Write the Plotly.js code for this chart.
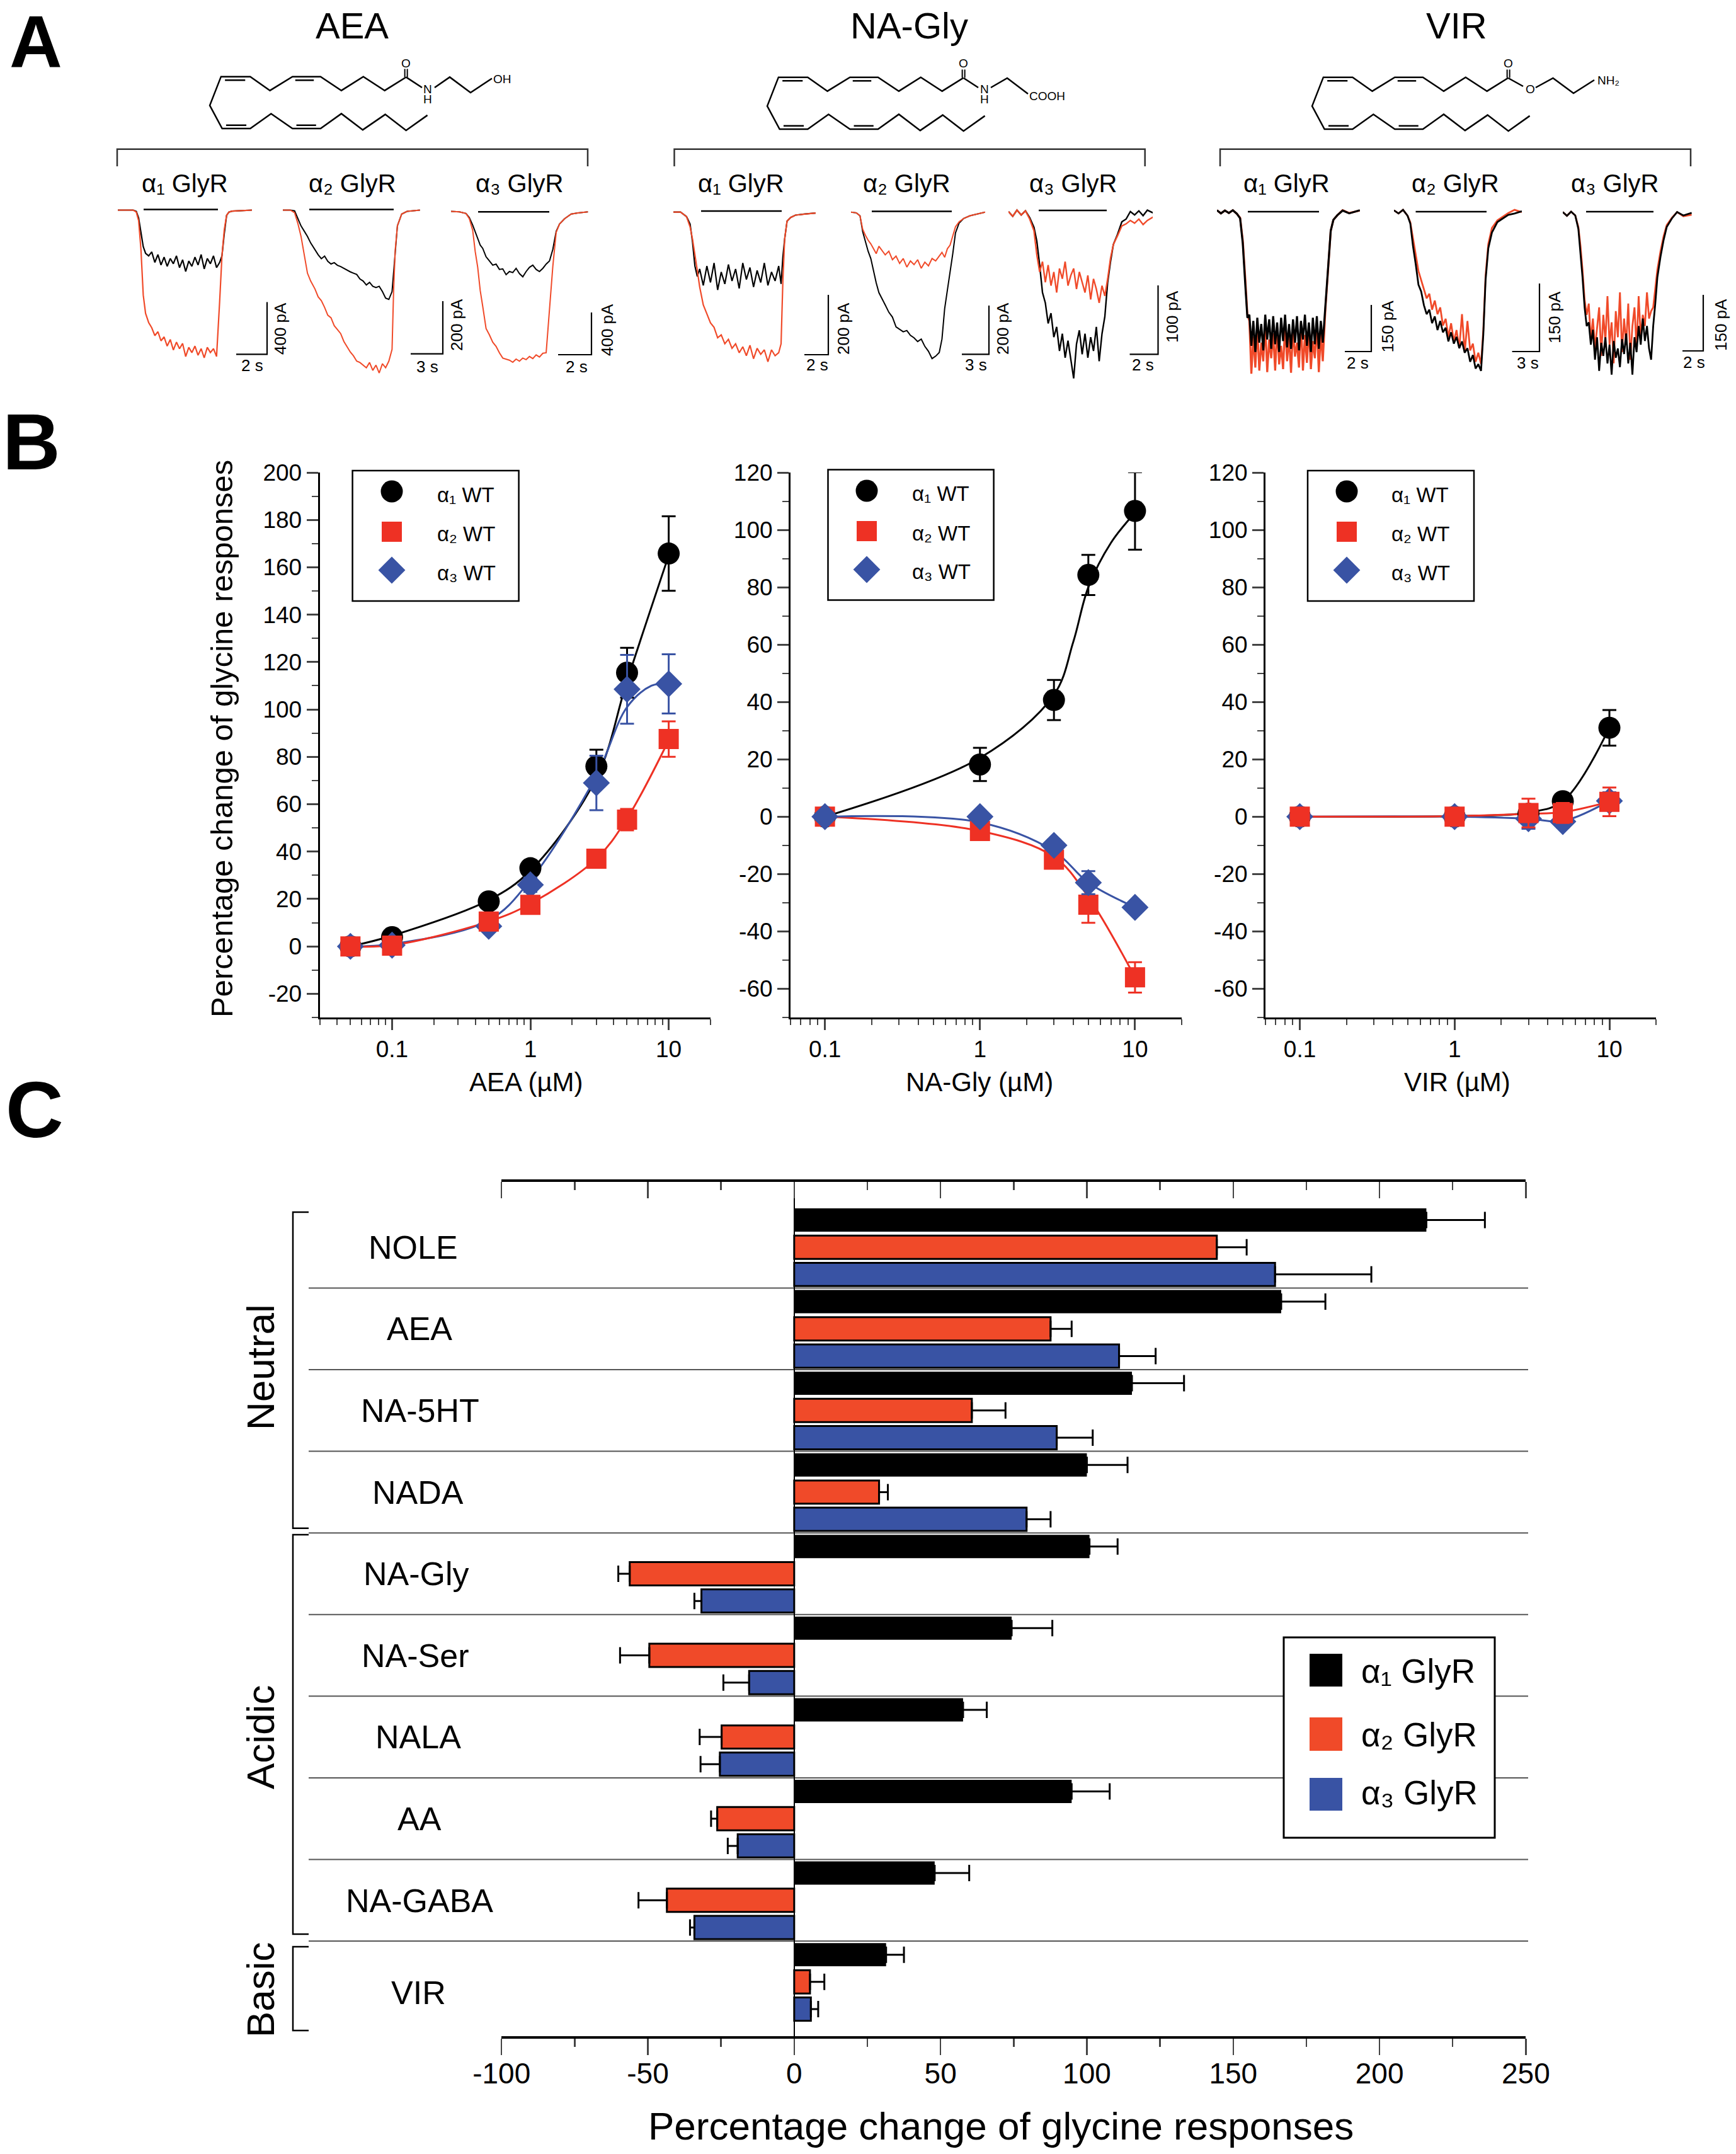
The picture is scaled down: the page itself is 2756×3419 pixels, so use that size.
<!DOCTYPE html>
<html><head><meta charset="utf-8">
<script src="https://cdn.plot.ly/plotly-3.0.1.min.js"></script>
<style>html,body{margin:0;padding:0;background:#fff}#g{width:2756px;height:3419px}</style>
</head><body><div id="g"></div>
<script>
// ---------- Panel C data ----------
const compounds=['NOLE','AEA','NA-5HT','NADA','NA-Gly','NA-Ser','NALA','AA','NA-GABA','VIR'];
const barA1=[216,166.4,115.4,100,100.9,74.3,57.7,94.8,48,31.4];
const barA2=[144.4,87.6,60.7,29,-56.2,-49.5,-24.8,-26.3,-43.5,5.4];
const barA3=[164.3,111,89.7,79.4,-31.7,-15.4,-25.4,-19.3,-34.1,5.7];
const errA1=[20,15.1,17.8,13.9,9.6,13.9,8.1,13,11.8,6.1];
const errA2=[10.2,7.2,11.5,3,3.9,10,7.5,2.1,9.7,4.9];
const errA3=[32.9,12.5,12.3,8.2,2.4,8.8,6.6,3.4,1.5,2.5];
const barTickVals=[-100,-50,0,50,100,150,200,250];
const barTickText=['-100','-50','0','50','100','150','200','250'];
const subunits=['α₁','α₂','α₃'];
// ---------- Panel B data ----------
const aeaDose=[.05,.1,.5,1,3,5,10];
const aeaA1=[0,3.9,19,33,76,115.5,165.8], aeaErrA1=[0,1,1,2,7,10.5,15.7], aeaFitA1=[0,4.5,19.5,32,71,112,165];
const aeaA2=[0,.3,10.5,17.5,37,53.5,87.5], aeaErrA2=[0,0,1,1,2,4.5,7.5], aeaFitA2=[0,.5,10.5,18,37,54,87];
const aeaA3=[0,.5,8.5,26,69,108.5,110.8], aeaErrA3=[0,0,1,3,11.5,14.5,12.5];
const aeaFitDoseA3=[.05,.1,.5,1,3,5,7.5,10], aeaFitA3=[0,1,11,28,72,101,110,111];
const glyDose=[.1,1,3,5,10];
const glyA1=[0,18.2,40.7,84.3,106.6], glyErrA1=[0,5.8,7,7,13.5];
const glyFitDoseA1=[.1,1,3,4,5,7,10], glyFitA1=[0,20.5,42.5,61,80,95.5,106];
const glyA2=[0,-5,-15,-30.7,-56], glyErrA2=[0,1,2.5,6.3,5.3], glyFitA2=[0,-5,-14,-28,-56];
const glyA3=[0,0,-10,-23,-31.6], glyErrA3=[0,1,2,4,1], glyFitA3=[0,-2,-12,-23,-31.6];
const virDose=[.1,1,3,5,10];
const virA1=[0,0,1,5.4,31], virErrA1=[0,.5,1,2,6.2], virFitA1=[0,.2,1.5,5.4,31];
const virA2=[0,0,1.3,1.3,5.2], virErrA2=[0,.5,5,3.5,5], virFitA2=[0,.2,1,1.6,5.2];
const virA3=[0,0,-.7,-1.7,5.5], virErrA3=[0,.5,3.5,2,3], virFitA3=[0,0,-.7,-1.5,5.5];
const aeaYTicks=[-20,0,20,40,60,80,100,120,140,160,180,200];
const glyYTicks=[-60,-40,-20,0,20,40,60,80,100,120];
const doseTicks=[.1,1,10], doseTickText=['0.1','1','10'];
// ---------- Panel A data: time (s) and current (pA) ----------
const t1=[0,.5,1,1.2,1.35,1.5,1.65,1.8,2,2.2,2.4,2.6,2.8,3,3.2,3.4,3.6,3.8,4,4.2,4.4,4.6,4.8,5,5.2,5.4,5.6,5.8,6,6.2,6.4,6.6,6.75,6.9,7.05,7.2,7.4,7.8,8.2,8.7];
const i1k=[0,0,0,-10,-60,-170,-280,-330,-350,-320,-400,-340,-420,-360,-430,-370,-410,-350,-440,-380,-470,-390,-430,-360,-420,-340,-450,-370,-410,-350,-440,-400,-350,-180,-40,-15,-8,-5,-3,0];
const i1r=[0,0,0,-15,-80,-300,-650,-790,-860,-900,-960,-930,-1000,-970,-1040,-990,-1070,-1010,-1060,-1020,-1120,-1050,-1090,-1040,-1110,-1060,-1130,-1050,-1090,-1060,-1120,-700,-350,-150,-40,-15,-8,-5,-3,0];
const t2=[0,.7,1.1,1.4,1.7,2,2.3,2.6,3,3.3,3.6,3.9,4.2,4.5,4.8,5.1,5.4,5.7,6,6.3,6.6,6.9,7.2,7.5,7.8,8.1,8.4,8.7,9,9.3,9.6,9.9,10.2,10.35,10.5,10.7,11.1,11.6,12.8];
const i2k=[0,0,-3,-30,-60,-80,-100,-125,-150,-170,-185,-175,-195,-205,-200,-210,-215,-222,-230,-235,-240,-245,-262,-270,-285,-275,-290,-295,-290,-310,-335,-340,-310,-230,-150,-60,-15,-5,0];
const i2r=[0,0,-10,-50,-100,-170,-240,-270,-300,-330,-345,-370,-400,-410,-440,-455,-470,-500,-520,-540,-555,-575,-580,-590,-600,-580,-610,-590,-620,-585,-600,-575,-530,-300,-150,-60,-15,-5,0];
const t3=[0,.5,.9,1.1,1.3,1.45,1.6,1.75,1.9,2.1,2.3,2.5,2.7,2.9,3.1,3.3,3.5,3.7,3.9,4.1,4.3,4.5,4.7,4.9,5.1,5.3,5.5,5.7,5.9,6.1,6.3,6.5,6.8,7.2,7.6,8.2];
const i3k=[0,-5,-20,-60,-130,-190,-260,-320,-350,-430,-470,-510,-500,-550,-545,-600,-570,-580,-540,-590,-620,-570,-530,-510,-550,-570,-540,-500,-470,-360,-190,-120,-70,-25,-15,-5];
const i3r=[0,-5,-20,-70,-180,-380,-530,-750,-900,-1110,-1170,-1240,-1280,-1340,-1390,-1400,-1410,-1430,-1400,-1420,-1390,-1405,-1375,-1395,-1360,-1380,-1345,-1340,-900,-520,-200,-120,-70,-25,-15,-5];
const t4=[0,.6,1.1,1.4,1.6,1.8,2,2.2,2.5,2.8,3.1,3.4,3.7,4,4.3,4.6,4.9,5.2,5.5,5.8,6.1,6.4,6.7,7,7.3,7.6,7.9,8.2,8.5,8.8,9,9.15,9.3,9.5,9.8,10.2,11,11.9];
const i4k=[0,0,-15,-40,-100,-180,-215,-190,-245,-180,-235,-170,-260,-200,-240,-175,-230,-190,-255,-170,-225,-185,-250,-195,-235,-170,-245,-200,-230,-180,-240,-150,-90,-30,-18,-10,-6,-3];
const i4r=[0,0,-15,-50,-90,-140,-195,-250,-310,-340,-370,-385,-420,-410,-440,-425,-455,-440,-470,-450,-480,-445,-490,-455,-475,-460,-500,-460,-480,-470,-440,-230,-90,-30,-18,-10,-6,-3];
const t5=[0,.6,1,1.3,1.6,1.9,2.2,2.5,2.8,3.1,3.4,3.8,4.2,4.6,5,5.4,5.8,6.2,6.6,7,7.4,7.8,8.2,8.6,9,9.4,9.8,10.1,10.4,10.7,11,11.3,11.6,12,12.5,13.2,14,14.9];
const i5k=[0,-3,-15,-80,-120,-160,-190,-240,-290,-330,-350,-380,-410,-430,-470,-480,-490,-485,-505,-515,-530,-520,-550,-570,-600,-590,-575,-520,-395,-320,-250,-170,-85,-45,-26,-15,-8,0];
const i5r=[0,-3,-15,-70,-95,-115,-130,-150,-170,-140,-155,-175,-160,-195,-180,-210,-190,-225,-200,-215,-195,-230,-205,-220,-190,-200,-180,-165,-185,-150,-135,-100,-60,-40,-26,-15,-8,0];
const t6=[0,.3,.6,.9,1.2,1.5,1.8,2,2.2,2.4,2.6,2.8,3,3.2,3.4,3.6,3.8,4,4.2,4.4,4.6,4.8,5,5.2,5.4,5.6,5.8,6,6.2,6.4,6.6,6.8,7,7.2,7.4,7.7,8,8.3,8.6,8.9,9.2,9.5,9.8,10.2];
const i6k=[3,-4,5,-2,4,-6,-20,-40,-75,-115,-130,-160,-145,-180,-165,-200,-175,-210,-185,-215,-240,-190,-170,-205,-175,-210,-180,-200,-165,-215,-175,-150,-100,-70,-45,-30,-12,-8,3,-2,4,-3,5,1];
const i6r=[3,-4,5,-2,4,-8,-25,-60,-85,-70,-100,-75,-105,-85,-115,-80,-95,-70,-105,-90,-80,-110,-85,-100,-115,-90,-125,-95,-110,-130,-105,-120,-95,-65,-45,-32,-18,-15,-10,-14,-8,-16,-10,-5];
const t7=[0,.3,.6,.9,1.2,1.5,1.75,1.95,2.15,2.3,2.45,2.6,2.75,2.9,3.05,3.2,3.35,3.5,3.65,3.8,3.95,4.1,4.25,4.4,4.55,4.7,4.85,5,5.15,5.3,5.45,5.6,5.75,5.9,6.05,6.2,6.35,6.5,6.65,6.8,6.95,7.1,7.25,7.4,7.55,7.7,7.85,8,8.2,8.4,8.6,8.8,9.1,9.5,10,10.8];
const i7k=[6,-4,5,-3,6,-5,-20,-100,-240,-340,-330,-430,-350,-450,-340,-420,-360,-445,-330,-410,-345,-440,-335,-425,-355,-450,-340,-415,-330,-435,-360,-440,-345,-420,-335,-445,-350,-410,-330,-430,-355,-450,-340,-425,-335,-440,-350,-420,-300,-170,-60,-25,-10,5,-4,6];
const i7r=[6,-4,5,-3,6,-5,-18,-90,-220,-330,-350,-520,-400,-500,-370,-510,-420,-480,-360,-515,-410,-470,-390,-510,-370,-490,-430,-505,-360,-480,-400,-517,-375,-465,-420,-500,-355,-510,-395,-485,-370,-505,-415,-470,-360,-515,-390,-480,-310,-180,-60,-25,-10,6,-3,5];
const t8=[0,.5,1,1.5,1.8,2.1,2.4,2.7,3,3.3,3.6,3.9,4.2,4.5,4.8,5.1,5.4,5.7,6,6.3,6.6,6.9,7.2,7.5,7.8,8.1,8.4,8.7,9,9.3,9.6,9.85,10.1,10.4,10.8,11.4,12,12.6,13.3,14.1];
const i8k=[4,-3,5,-8,-25,-75,-115,-160,-175,-205,-225,-215,-245,-230,-260,-240,-265,-255,-285,-265,-290,-275,-300,-285,-310,-300,-330,-315,-345,-335,-350,-270,-150,-80,-45,-22,-14,-6,-3,2];
const i8r=[4,-3,5,-8,-22,-60,-95,-130,-150,-170,-190,-180,-215,-195,-225,-210,-250,-235,-275,-245,-285,-260,-300,-225,-310,-240,-305,-290,-330,-310,-335,-260,-140,-70,-35,-18,-10,-2,5,0];
const t9=[0,.4,.8,1.2,1.5,1.7,1.9,2.1,2.3,2.5,2.7,2.9,3.1,3.3,3.5,3.7,3.9,4.1,4.3,4.5,4.7,4.9,5.1,5.3,5.5,5.7,5.9,6.1,6.3,6.5,6.7,6.9,7.1,7.3,7.5,7.7,7.9,8.1,8.3,8.5,8.7,8.9,9.1,9.4,9.7,10,10.5,11,11.6,12.4];
const i9k=[5,-5,6,-4,-40,-100,-170,-250,-300,-290,-350,-310,-390,-330,-420,-345,-380,-330,-400,-350,-430,-340,-385,-360,-410,-335,-375,-320,-400,-345,-430,-330,-370,-300,-350,-280,-340,-300,-360,-390,-300,-240,-170,-115,-70,-35,-12,5,-4,3];
const i9r=[5,-5,6,-4,-35,-85,-150,-230,-270,-240,-340,-280,-360,-300,-250,-380,-270,-340,-220,-350,-290,-400,-260,-330,-210,-370,-280,-350,-240,-390,-300,-250,-360,-220,-330,-270,-300,-210,-280,-260,-250,-200,-150,-100,-60,-30,-10,5,-6,-2];

const W=2756,H=3419;
const BLACK='#000000',RED='#ee3124',ORANGE='#f04a29',BLUE='#3953a4';
const FONT='"Liberation Sans", Arial, sans-serif';
const px=x=>x/W, py=y=>1-y/H;
const dx=(a,b)=>[a/W,b/W], dy=(t,b)=>[1-b/H,1-t/H];
const traces=[],shapes=[],annotations=[];
const layout={width:W,height:H,margin:{l:0,r:0,t:0,b:0},paper_bgcolor:'#fff',plot_bgcolor:'rgba(0,0,0,0)',
  showlegend:false,hovermode:false,barmode:'group',bargap:0,bargroupgap:.145,font:{family:FONT,color:'#000'}};
function ann(x,y,text,size,o){annotations.push(Object.assign({xref:'paper',yref:'paper',x:px(x),y:py(y),text,showarrow:false,
  xanchor:'center',yanchor:'middle',font:{size,family:FONT,color:'#000'}},o||{}));}
function seg(x0,y0,x1,y1,w,c){shapes.push({type:'line',xref:'paper',yref:'paper',x0:px(x0),y0:py(y0),x1:px(x1),y1:py(y1),line:{width:w||2,color:c||'#000'}});}
function poly(pts,w,c){shapes.push({type:'path',xref:'paper',yref:'paper',path:'M'+pts.map(p=>px(p[0])+' '+py(p[1])).join(' L'),line:{width:w||2.5,color:c||'#000'}});}
function box(x0,y0,x1,y1,fill,lw,lc,layer){shapes.push({type:'rect',xref:'paper',yref:'paper',x0:px(x0),y0:py(y0),x1:px(x1),y1:py(y1),fillcolor:fill,line:{width:lw||0,color:lc||'#000'},layer:layer||'above'});}

// ---------- Panel letters ----------
ann(57,67,'<b>A</b>',116); ann(50,701,'<b>B</b>',127); ann(55,1761,'<b>C</b>',127);

// ---------- Panel A ----------
[['AEA',559],['NA-Gly',1443],['VIR',2312]].forEach(a=>ann(a[1],40,a[0],58));
[[186,933],[1070.5,1817.7],[1937,2684]].forEach(b=>poly([[b[0],264],[b[0],236.7],[b[1],236.7],[b[1],264]],2.5,'#333'));
[[293,0],[559,1],[824,2],[1176,0],[1439,1],[1703,2],[2042.6,0],[2310.7,1],[2563,2]].forEach(a=>
  ann(a[0],291,subunits[a[1]]+' GlyR',40));

function structure(dX,dY){
  const m=(p)=>[p[0]/1.12+dX,p[1]/2.45+dY];
  poly([[722,300],[684,352],[646,298],[607,352],[570,298],[520,298],[480,352],[445,298],[393,298],[373,410],[395,500],[445,500],[482,442],[520,500],[570,500],[607,442],[645,505],[685,445],[722,507],[760,448]].map(m),2.5);
  [[400,312,436,312],[525,312,558,312],[402,487,438,487],[527,487,562,487]].forEach(s=>{const a=m([s[0],s[1]]),b=m([s[2],s[3]]);seg(a[0],a[1],b[0],b[1],2.5);});
  const c=m([722,300]),o=m([722,268]);
  seg(c[0]-2,c[1],o[0]-2,o[1],2); seg(c[0]+2,c[1],o[0]+2,o[1],2);
  ann(o[0],100+dY,'O',19);
}
structure(0,0); poly([[644.6,122.4],[670,139]],2.5); poly([[690,139],[714,122.4],[747,147],[781,124.5]],2.5);
ann(678.6,141,'N',19); ann(678.6,157,'H',19); ann(797,125,'OH',19);
structure(885,1); poly([[1530,124],[1553,139]],2.5); poly([[1573,139],[1599,124],[1632,149]],2.5);
ann(1563,141,'N',19); ann(1563,158,'H',19); ann(1662,152,'COOH',19);
structure(1750,1); poly([[2394.6,124],[2418,137]],2.5); poly([[2438,139],[2465.5,124],[2498,148],[2531,127]],2.5);
ann(2429,142,'O',19); ann(2553,128,'NH₂',19);

const tracePanels=[
 {t:t1,k:i1k,r:i1r,L:187,R:400,base:333.5,pxS:24.5,pxA:.2075,drug:[228,346,332.6],sb:[375,424,562.4,479.6],lab:['400 pA',445,522],tl:['2 s',400,580],lw:2.2},
 {t:t2,k:i2k,r:i2r,L:449,R:667,base:333.5,pxS:17,pxA:.417,drug:[491,625,332.6],sb:[652,703,561.6,478],lab:['200 pA',725,516],tl:['3 s',678,582],lw:2},
 {t:t3,k:i3k,r:i3r,L:716,R:934,base:335.5,pxS:26.5,pxA:.1675,drug:[759,872,336.3],sb:[886,939,563,496],lab:['400 pA',964,524],tl:['2 s',915,582],lw:2},
 {t:t4,k:i4k,r:i4r,L:1069,R:1295,base:336.7,pxS:19,pxA:.475,drug:[1113,1241,335],sb:[1277,1315,563,468],lab:['200 pA',1339,522],tl:['2 s',1297,579],lw:2.2},
 {t:t5,k:i5k,r:i5r,L:1351,R:1564,base:336.7,pxS:14.3,pxA:.3875,drug:[1384,1511,335.5],sb:[1527,1570,562.4,485],lab:['200 pA',1592,522],tl:['3 s',1549,579],lw:2},
 {t:t6,k:i6k,r:i6r,L:1601,R:1830,base:339,pxS:22.5,pxA:1.09,drug:[1649,1757,334],sb:[1793.5,1838.5,562.4,453],lab:['100 pA',1861,503],tl:['2 s',1815,579],lw:2.4},
 {t:t7,k:i7k,r:i7r,L:1932,R:2159,base:336.7,pxS:21,pxA:.4933,drug:[1981,2094,336],sb:[2135,2177,558,484],lab:['150 pA',2202.5,518],tl:['2 s',2155,576],lw:3.2,blackTop:true},
 {t:t8,k:i8k,r:i8r,L:2213,R:2416,base:336.7,pxS:14.4,pxA:.72,drug:[2247.5,2360,336],sb:[2400.6,2444,558,450],lab:['150 pA',2468,504],tl:['3 s',2425,576],lw:2.8,blackTop:true},
 {t:t9,k:i9k,r:i9r,L:2481,R:2686,base:339.6,pxS:16.5,pxA:.593,drug:[2518,2625,336],sb:[2671,2704,557,468],lab:['150 pA',2732,516],tl:['2 s',2689,575],lw:2.8,blackTop:true}
];
let axN=3;
tracePanels.forEach(p=>{
  const n=axN++; const top=320,bot=620;
  layout['xaxis'+n]={domain:dx(p.L,p.R),range:[0,(p.R-p.L)/p.pxS],visible:false,anchor:'y'+n,fixedrange:true};
  layout['yaxis'+n]={domain:dy(top,bot),range:[-(bot-p.base)/p.pxA,(p.base-top)/p.pxA],visible:false,anchor:'x'+n,fixedrange:true};
  const tk={type:'scatter',mode:'lines',x:p.t,y:p.k,xaxis:'x'+n,yaxis:'y'+n,line:{color:BLACK,width:p.lw},cliponaxis:false,name:'black'};
  const tr={type:'scatter',mode:'lines',x:p.t,y:p.r,xaxis:'x'+n,yaxis:'y'+n,line:{color:ORANGE,width:p.lw},cliponaxis:false,name:'red'};
  if(p.blackTop){traces.push(tr,tk);}else{traces.push(tk,tr);}
  seg(p.drug[0],p.drug[2],p.drug[1],p.drug[2],2.5);
  poly([[p.sb[0],p.sb[2]],[p.sb[1],p.sb[2]],[p.sb[1],p.sb[3]]],2.2);
  ann(p.lab[1],p.lab[2],p.lab[0],26,{textangle:-90});
  ann(p.tl[1],p.tl[2],p.tl[0],26);
});

// ---------- Panel B ----------
function doseAxes(n,L,R,lo,yr,yt){
  const hy=yt.map(v=>String(v));
  layout['xaxis'+n]={domain:dx(L,R),type:'log',range:[Math.log10(lo),Math.log10(20)],anchor:'y'+n,tickmode:'array',tickvals:doseTicks,ticktext:doseTickText,
    ticks:'outside',ticklen:17,tickwidth:3,linewidth:3,linecolor:'#000',showgrid:false,zeroline:false,tickfont:{size:37,family:FONT,color:'#000'},ticklabelstandoff:-1,
    minor:{ticks:'outside',ticklen:9,tickwidth:2,dtick:'D1',showgrid:false},fixedrange:true};
  layout['yaxis'+n]={domain:dy(750,1615),range:yr,anchor:'x'+n,tickmode:'array',tickvals:yt,ticktext:hy,
    ticks:'outside',ticklen:18,tickwidth:3,linewidth:3,linecolor:'#000',showgrid:false,zeroline:false,tickfont:{size:37,family:FONT,color:'#000'},
    minor:{ticks:'outside',ticklen:10,tickwidth:2,dtick:10,tick0:0,showgrid:false},fixedrange:true};
}
function fit(n,x,y,c){traces.push({type:'scatter',mode:'lines',x,y,xaxis:'x'+n,yaxis:'y'+n,line:{color:c,width:3,shape:'spline'},cliponaxis:false});}
function pts(n,x,y,e,c,sym,size){traces.push({type:'scatter',mode:'markers',x,y,xaxis:'x'+n,yaxis:'y'+n,cliponaxis:false,
  marker:{color:c,symbol:sym,size,line:{width:0}},error_y:{type:'data',array:e,visible:true,color:c,thickness:3,width:11}});}
const SC=35,SS=32,SD=33;
doseAxes(20,507.6,1127.7,.03,[-30,200],aeaYTicks);
fit(20,aeaDose,aeaFitA1,BLACK);fit(20,aeaFitDoseA3,aeaFitA3,BLUE);fit(20,aeaDose,aeaFitA2,RED);
pts(20,aeaDose,aeaA1,aeaErrA1,BLACK,'circle',SC);pts(20,aeaDose,aeaA3,aeaErrA3,BLUE,'diamond',SD);pts(20,aeaDose,aeaA2,aeaErrA2,RED,'square',SS);
doseAxes(21,1255,1876,.06,[-70,120],glyYTicks);
fit(21,glyFitDoseA1,glyFitA1,BLACK);fit(21,glyDose,glyFitA2,RED);fit(21,glyDose,glyFitA3,BLUE);
pts(21,glyDose,glyA1,glyErrA1,BLACK,'circle',SC);pts(21,glyDose,glyA2,glyErrA2,RED,'square',SS);pts(21,glyDose,glyA3,glyErrA3,BLUE,'diamond',SD);
doseAxes(22,2009,2629,.06,[-70,120],glyYTicks);
fit(22,virDose,virFitA1,BLACK);fit(22,virDose,virFitA3,BLUE);fit(22,virDose,virFitA2,RED);
pts(22,virDose,virA1,virErrA1,BLACK,'circle',SC);pts(22,virDose,virA3,virErrA3,BLUE,'diamond',SD);pts(22,virDose,virA2,virErrA2,RED,'square',SS);
ann(352,1173,'Percentage change of glycine responses',49,{textangle:-90});
ann(835,1717,'AEA (µM)',42); ann(1555,1717,'NA-Gly (µM)',42); ann(2313,1717,'VIR (µM)',42);

// B legends: keys on a page-wide hidden axis
layout.xaxis30={domain:[0,1],range:[0,W],visible:false,anchor:'y30',fixedrange:true};
layout.yaxis30={domain:[0,1],range:[H,0],visible:false,anchor:'x30',fixedrange:true};
[[559.6,823.6,747,954,622,692,[780,844,905],[785,847,909]],
 [1314.5,1577.6,745.5,952.5,1376,1446,[779,843,904],[784,846,908]],
 [2076,2340,747,954,2138,2207,[780,844,905],[785,847,909]]].forEach(l=>{
  box(l[0],l[2],l[1],l[3],'rgba(0,0,0,0)',2.5);
  [[BLACK,'circle',SC],[RED,'square',SS],[BLUE,'diamond',SD]].forEach((k,i)=>{
    traces.push({type:'scatter',mode:'markers',x:[l[4]],y:[l[6][i]],xaxis:'x30',yaxis:'y30',marker:{color:k[0],symbol:k[1],size:k[2]}});
    ann(l[5],l[7][i],subunits[i]+' WT',33,{xanchor:'left'});
  });
});

// ---------- Panel C ----------
const plus=(v,e)=>e.map((d,i)=>v[i]>=0?d:0), minus=(v,e)=>e.map((d,i)=>v[i]<0?d:0);
function barTrace(v,e,c,isBlack){traces.push({type:'bar',orientation:'h',y:compounds,x:v,xaxis:'x',yaxis:'y',
  marker:{color:c,line:{color:'#000',width:isBlack?0:3}},
  error_x:{type:'data',symmetric:false,array:plus(v,e),arrayminus:minus(v,e),visible:true,color:'#000',thickness:3,width:13}});}
barTrace(barA1,errA1,BLACK,true);barTrace(barA2,errA2,ORANGE);barTrace(barA3,errA3,BLUE);
layout.xaxis={domain:dx(796.2,2422.4),range:[-100,250],anchor:'y',tickmode:'array',tickvals:barTickVals,ticktext:barTickText,side:'bottom',
  ticks:'outside',ticklen:26,tickwidth:2.5,linewidth:4,linecolor:'#000',showgrid:false,zeroline:true,zerolinecolor:'#000',zerolinewidth:2,
  tickfont:{size:46,family:FONT,color:'#000'},ticklabelstandoff:-10,minor:{ticks:'outside',ticklen:13,tickwidth:2.5,dtick:25,tick0:0,showgrid:false},fixedrange:true};
layout.yaxis={domain:dy(1871.6,3232),range:[9.665,-.834],type:'category',categoryorder:'array',categoryarray:compounds,anchor:'x',
  showticklabels:false,ticks:'',showline:false,showgrid:false,zeroline:false,fixedrange:true};
// top scale: a second x axis lying on the top edge, its ticks pointing down into the plot
layout.xaxis2={domain:dx(796.2,2422.4),range:[-100,250],anchor:'y2',side:'bottom',tickmode:'array',tickvals:barTickVals,showticklabels:false,
  ticks:'outside',ticklen:26,tickwidth:2.5,linewidth:4,linecolor:'#000',showgrid:false,zeroline:false,
  minor:{ticks:'outside',ticklen:13,tickwidth:2.5,dtick:25,tick0:0,showgrid:false},fixedrange:true};
layout.yaxis2={domain:dy(1860,1871.6),range:[0,1],visible:false,anchor:'x2',fixedrange:true};
traces.push({type:'scatter',mode:'lines',x:[null],y:[null],xaxis:'x2',yaxis:'y2'});
for(let i=0;i<9;i++){shapes.push({type:'line',xref:'paper',yref:'y',x0:px(490),x1:px(2426),y0:i+.5,y1:i+.5,line:{color:'#555',width:2},layer:'below'});}
poly([[490,1924],[465,1924],[465,2425.7],[490,2425.7]],2.5);
poly([[490,2436],[465,2436],[465,3070],[490,3070]],2.5);
poly([[490,3090],[465,3090],[465,3223],[490,3223]],2.5);
ann(413,2170,'Neutral',62,{textangle:-90}); ann(413,2758,'Acidic',62,{textangle:-90}); ann(413,3158,'Basic',62,{textangle:-90});
const catLabelX=[656,666,667,663,661,659,664,666,666,664];
compounds.forEach((c,i)=>ann(catLabelX[i],1979.7+129.6*i+(i===9?17:0),c,52));
box(2038,2599,2373,2917,'#fff',3);
box(2079,2625,2131,2677,BLACK); box(2079,2726,2131,2779,ORANGE); box(2079,2822,2131,2874,BLUE);
[[2652,0],[2753,1],[2845,2]].forEach(a=>ann(2159,a[0],subunits[a[1]]+' GlyR',53,{xanchor:'left'}));
ann(1589,3374,'Percentage change of glycine responses',62);

layout.shapes=shapes; layout.annotations=annotations;
traces.forEach(t=>{t.hoverinfo='skip';t.showlegend=false;});
Plotly.newPlot('g',traces,layout,{staticPlot:true,displayModeBar:false});
</script></body></html>
